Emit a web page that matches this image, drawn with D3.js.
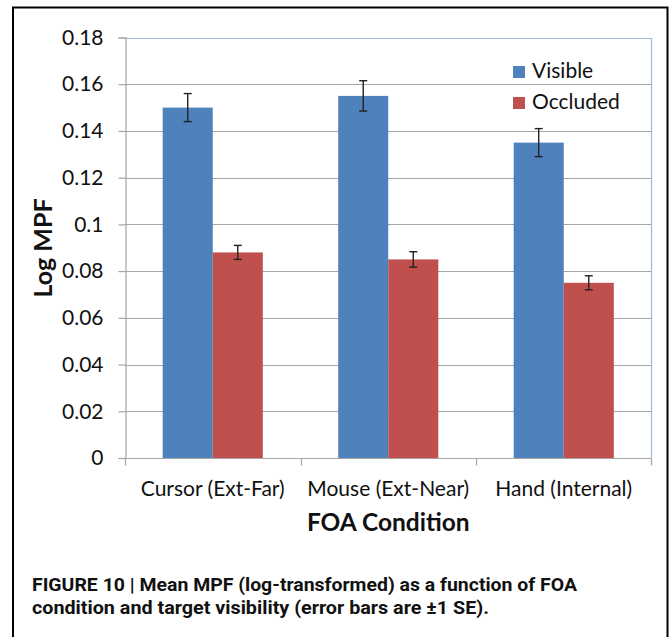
<!DOCTYPE html>
<html>
<head>
<meta charset="utf-8">
<script src="https://cdn.jsdelivr.net/npm/d3@7"></script>
<style>
  html, body { margin: 0; padding: 0; background: #fff; }
  svg { display: block; }
</style>
</head>
<body>
<svg id="chart" width="671" height="637"></svg>
<script>
// Chart data.
var categories = ["Cursor (Ext-Far)", "Mouse (Ext-Near)", "Hand (Internal)"];
var series = ["Visible", "Occluded"];
var visible = [0.150, 0.155, 0.135];
var visible_se = [0.006, 0.0065, 0.006];
var occluded = [0.088, 0.085, 0.075];
var occluded_se = [0.003, 0.0033, 0.003];
var y_ticks = [0, 0.02, 0.04, 0.06, 0.08, 0.1, 0.12, 0.14, 0.16, 0.18];
var caption_lines = ["FIGURE 10 | Mean MPF (log-transformed) as a function of FOA",
                     "condition and target visibility (error bars are \u00b11 SE)."];

var colors = {Visible: "#4f81bd", Occluded: "#c0504d"};
var font = "Lato, 'Open Sans', sans-serif";

var svg = d3.select("#chart");

// outer frame, open at the bottom
svg.append("path")
  .attr("d", "M13,637 V7.5 H667.5 V637")
  .attr("fill", "none")
  .attr("stroke", "#000")
  .attr("stroke-width", 2);

var x = d3.scaleBand()
  .domain(categories)
  .range([125, 651.5]);

var xInner = d3.scaleBand()
  .domain(series)
  .range([0, x.bandwidth()])
  .paddingInner(0)
  .paddingOuter(0.753);

var y = d3.scaleLinear()
  .domain([0, 0.18])
  .range([458, 37.5]);

// gridlines
svg.append("g")
  .selectAll("line")
  .data(y_ticks.slice(1))
  .enter().append("line")
  .attr("x1", 125).attr("x2", 651.5)
  .attr("y1", function(d) { return Math.round(y(d)) + 0.5; })
  .attr("y2", function(d) { return Math.round(y(d)) + 0.5; })
  .attr("stroke", "#a6a6a6")
  .attr("stroke-width", 1.2);

// plot area border (top & right)
svg.append("path")
  .attr("d", "M125," + (Math.round(y(0.18)) + 0.5) + " H651.5 V458")
  .attr("fill", "none")
  .attr("stroke", "#9bb7dc")
  .attr("stroke-width", 1.2);

// y axis
var yAxis = d3.axisLeft(y)
  .tickValues(y_ticks)
  .tickSize(7)
  .tickPadding(15)
  .tickFormat(function(d) { return d === 0 ? "0" : String(d); });

var gy = svg.append("g")
  .attr("transform", "translate(125.5,0)")
  .call(yAxis);
gy.select(".domain").attr("stroke", "#a6a6a6").attr("stroke-width", 1.2);
gy.selectAll(".tick line").attr("stroke", "#a6a6a6").attr("stroke-width", 1.2);
gy.selectAll(".tick text")
  .attr("font-family", font)
  .attr("font-size", 21)
  .attr("fill", "#111");

// bars
var rows = categories.map(function(c, i) {
  return [
    {cat: c, key: "Visible", value: visible[i], se: visible_se[i]},
    {cat: c, key: "Occluded", value: occluded[i], se: occluded_se[i]}
  ];
});

var groups = svg.append("g")
  .selectAll("g")
  .data(rows)
  .enter().append("g")
  .attr("transform", function(d) { return "translate(" + x(d[0].cat) + ",0)"; });

groups.selectAll("rect")
  .data(function(d) { return d; })
  .enter().append("rect")
  .attr("x", function(d) { return xInner(d.key); })
  .attr("width", xInner.bandwidth())
  .attr("y", function(d) { return y(d.value); })
  .attr("height", function(d) { return y(0) - y(d.value); })
  .attr("fill", function(d) { return colors[d.key]; });

// error bars
var eb = groups.selectAll(".err")
  .data(function(d) { return d; })
  .enter().append("g")
  .attr("class", "err")
  .attr("stroke", "#222")
  .attr("stroke-width", 1.4);

eb.append("line")
  .attr("x1", function(d) { return xInner(d.key) + xInner.bandwidth() / 2; })
  .attr("x2", function(d) { return xInner(d.key) + xInner.bandwidth() / 2; })
  .attr("y1", function(d) { return y(d.value + d.se); })
  .attr("y2", function(d) { return y(d.value - d.se); });

eb.selectAll(".cap")
  .data(function(d) { return [d.value + d.se, d.value - d.se].map(function(v) { return {key: d.key, v: v}; }); })
  .enter().append("line")
  .attr("class", "cap")
  .attr("x1", function(d) { return xInner(d.key) + xInner.bandwidth() / 2 - 4; })
  .attr("x2", function(d) { return xInner(d.key) + xInner.bandwidth() / 2 + 4; })
  .attr("y1", function(d) { return y(d.v); })
  .attr("y2", function(d) { return y(d.v); });

// x axis
var gx = svg.append("g")
  .attr("transform", "translate(0," + 458.5 + ")");
gx.append("line")
  .attr("x1", 118).attr("x2", 651.5)
  .attr("stroke", "#a6a6a6").attr("stroke-width", 1.2);
gx.selectAll(".xt")
  .data(categories.concat([null]))
  .enter().append("line")
  .attr("class", "xt")
  .attr("x1", function(d) { return d ? Math.round(x(d)) + 0.5 : 651.5; })
  .attr("x2", function(d) { return d ? Math.round(x(d)) + 0.5 : 651.5; })
  .attr("y1", 0).attr("y2", 7)
  .attr("stroke", "#a6a6a6").attr("stroke-width", 1.2);
gx.selectAll(".xl")
  .data(categories)
  .enter().append("text")
  .attr("class", "xl")
  .attr("x", function(d) { return x(d) + x.bandwidth() / 2; })
  .attr("y", 37)
  .attr("text-anchor", "middle")
  .attr("font-family", font)
  .attr("font-size", 21)
  .attr("fill", "#111")
  .text(function(d) { return d; });

// axis titles
svg.append("text")
  .attr("x", (125 + 651.5) / 2)
  .attr("y", 531)
  .attr("text-anchor", "middle")
  .attr("font-family", font)
  .attr("font-weight", "bold")
  .attr("font-size", 24.5)
  .attr("fill", "#111")
  .text("FOA Condition");

svg.append("text")
  .attr("transform", "translate(52,248) rotate(-90)")
  .attr("text-anchor", "middle")
  .attr("font-family", font)
  .attr("font-weight", "bold")
  .attr("font-size", 25)
  .attr("fill", "#111")
  .text("Log MPF");

// legend
var legend = svg.append("g")
  .selectAll("g")
  .data(series)
  .enter().append("g")
  .attr("transform", function(d, i) { return "translate(513," + (66 + i * 31) + ")"; });
legend.append("rect")
  .attr("width", 12).attr("height", 12)
  .attr("fill", function(d) { return colors[d]; });
legend.append("text")
  .attr("x", 19).attr("y", 12)
  .attr("font-family", font)
  .attr("font-size", 21)
  .attr("fill", "#111")
  .text(function(d) { return d; });

// caption
var capWidths = [545, 457];
svg.append("g")
  .selectAll("text")
  .data(caption_lines)
  .enter().append("text")
  .attr("x", 32)
  .attr("y", function(d, i) { return 591 + i * 23; })
  .attr("font-family", "'Liberation Sans Narrow', 'Roboto', sans-serif")
  .attr("font-weight", "bold")
  .attr("font-size", 18)
  .attr("fill", "#111")
  .attr("textLength", function(d, i) { return capWidths[i]; })
  .attr("lengthAdjust", "spacingAndGlyphs")
  .text(function(d) { return d; });
</script>
</body>
</html>
